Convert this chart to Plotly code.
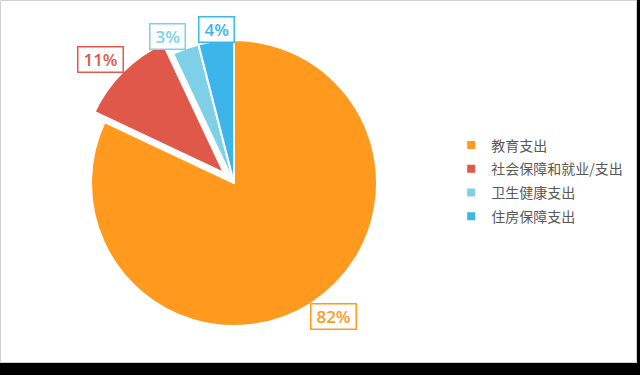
import math
import plotly.graph_objects as go

categories = ["教育支出", "社会保障和就业支出", "卫生健康支出", "住房保障支出"]
legend_labels = ["教育支出", "社会保障和就业/支出", "卫生健康支出", "住房保障支出"]
values = [82, 11, 3, 4]
pulls = [0, 0.1, 0, 0]
colors = ["#FF9A1F", "#E0584A", "#7DD0E8", "#3CB6EA"]

W, H = 640, 375
CX, CY, R = 234, 183, 143  # pie centre / radius in pixels (from top-left)
maxpull = max(pulls)
half = R * (1 + maxpull)

fig = go.Figure()
fig.add_trace(go.Pie(
    labels=categories, values=values, pull=pulls, sort=False,
    direction="clockwise", rotation=0,
    marker=dict(colors=colors, line=dict(color="white", width=2)),
    textinfo="none", hoverinfo="label+percent", showlegend=False,
    domain=dict(x=[(CX - half) / W, (CX + half) / W],
                y=[(H - CY - half) / H, (H - CY + half) / H]),
))

# legend via dummy marker traces
for lab, col in zip(legend_labels, colors):
    fig.add_trace(go.Scatter(x=[None], y=[None], mode="markers", name=lab,
                             legendgroup=lab,
                             marker=dict(symbol="square", size=8, color=col)))

# percentage labels
total = sum(values)
cum = 0
NB = "\u00a0"
for v, p, col in zip(values, pulls, colors):
    mid = (cum + v / 2) / total * 2 * math.pi
    cum += v
    s, c = math.sin(mid), math.cos(mid)
    d = R * 0.99 + p * R
    px = CX + d * s
    py = CY - d * c
    xa = "center" if abs(s) < 0.3 else ("left" if s > 0 else "right")
    ya = "top" if c < 0 else "bottom"
    fig.add_annotation(
        x=px / W, y=(H - py) / H, xref="paper", yref="paper",
        text=f"{NB}{round(v / total * 100)}%{NB}", showarrow=False,
        xanchor=xa, yanchor=ya,
        font=dict(family="Open Sans", size=17, color=col, weight=600),
        bgcolor="white", bordercolor=col, borderwidth=1.5, borderpad=0.5,
    )

fig.update_layout(
    width=W, height=H,
    margin=dict(l=0, r=0, t=0, b=0),
    paper_bgcolor="white", plot_bgcolor="white",
    xaxis=dict(visible=False), yaxis=dict(visible=False),
    legend=dict(x=0.705, y=(H - 181) / H, xanchor="left", yanchor="middle",
                traceorder="grouped", tracegroupgap=2.5, itemsizing="trace",
                itemwidth=30,
                font=dict(family="Noto Sans CJK SC", size=14, color="#595959"),
                bgcolor="rgba(0,0,0,0)"),
    shapes=[
        dict(type="rect", xref="paper", yref="paper", x0=0.5 / W, x1=636.5 / W,
             y0=(H - 362.5) / H, y1=(H - 0.5) / H,
             line=dict(color="#D0D0D0", width=1), fillcolor="rgba(0,0,0,0)", layer="below"),
        dict(type="rect", xref="paper", yref="paper", x0=0, x1=1,
             y0=0, y1=(H - 363) / H, line=dict(width=0), fillcolor="black"),
        dict(type="rect", xref="paper", yref="paper", x0=637 / W, x1=1,
             y0=0, y1=1, line=dict(width=0), fillcolor="black"),
    ],
)

fig.write_html("out.html", config={"displayModeBar": False},
               post_script="document.body.style.margin='0';document.body.style.overflow='hidden';")
